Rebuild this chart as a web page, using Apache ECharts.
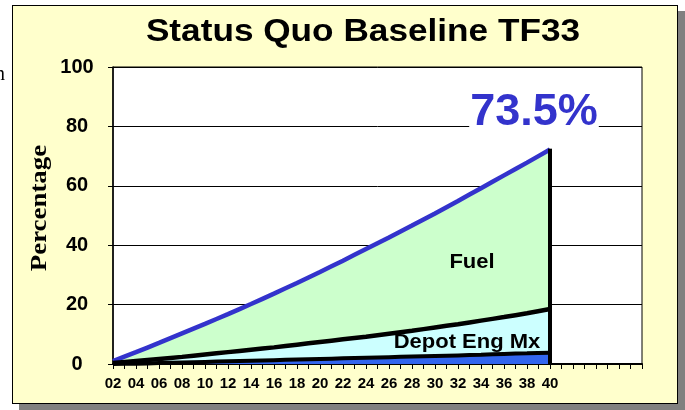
<!DOCTYPE html>
<html>
<head>
<meta charset="utf-8">
<script src="https://cdn.jsdelivr.net/npm/echarts@6/dist/echarts.min.js"></script>
<style>
  body { margin: 0; background: #fff; }
  #panel {
    position: absolute; left: 12px; top: 5px; width: 664px; height: 397px;
    background: #ffffcc; border: 1.5px solid #000; box-shadow: 7px 6px 0 #808080;
  }
  #chart { position: absolute; left: 0; top: 0; width: 685px; height: 410px; }
</style>
</head>
<body>
<div id="panel"></div>
<div id="chart"></div>
<script>
// years (two-digit), every 2 years
const years = [2, 4, 6, 8, 10, 12, 14, 16, 18, 20, 22, 24, 26, 28, 30, 32, 34, 36, 38, 40];
// stacked components, percentage points
const otherMx = [0, 0.1, 0.3, 0.5, 0.7, 0.9, 1.1, 1.3, 1.5, 1.7, 1.9, 2.1, 2.3, 2.5, 2.7, 2.9, 3.1, 3.4, 3.6, 3.8];
const depotEngMx = [0.3, 0.9, 1.4, 1.9, 2.5, 3.1, 3.7, 4.3, 5.0, 5.7, 6.4, 7.1, 7.9, 8.7, 9.6, 10.5, 11.5, 12.4, 13.5, 14.7];
const fuel = [0.7, 3, 5.4, 7.9, 10.3, 12.8, 15.4, 18.1, 20.8, 23.6, 26.5, 29.5, 32.4, 35.4, 38.4, 41.5, 44.6, 47.7, 50.7, 53.7];
const endYear = 40;
const endTotal = 72.5;
const endLabel = "73.5%";

const chart = echarts.init(document.getElementById("chart"));

// stack by hand (value x-axis), each band drawn as its cumulative top
function cumulative(parts) {
  return years.map((y, i) => {
    let s = 0;
    parts.forEach(p => { s += p[i]; });
    return [y, +s.toFixed(2)];
  });
}

function band(name, data, lineColor, lineWidth, fill, z) {
  return {
    name: name,
    type: "line",
    data: data,
    symbol: "none",
    smooth: 0.2,
    lineStyle: { color: lineColor, width: lineWidth },
    areaStyle: { color: fill, opacity: 1, origin: "start" },
    z: z,
  };
}

const fuelSeries = band("Fuel", cumulative([otherMx, depotEngMx, fuel]), "#3333cc", 4.5, "#ccffcc", 2);
fuelSeries.markLine = {
  silent: true,
  symbol: "none",
  label: { show: false },
  lineStyle: { color: "#000", width: 4, type: "solid" },
  data: [[{ coord: [endYear, 0] }, { coord: [endYear, endTotal] }]],
};

const textFont = "Arial, Liberation Sans";

const option = {
  animation: false,
  grid: {
    left: 113, right: 43, top: 67, bottom: 46,
    show: true, backgroundColor: "#fff", borderColor: "#000", borderWidth: 1,
  },
  xAxis: {
    type: "value",
    min: 2, max: 48, interval: 1,
    axisLine: { lineStyle: { color: "#000", width: 2 } },
    axisTick: { show: true, length: 5, lineStyle: { color: "#000" } },
    axisLabel: {
      margin: 12,
      color: "#000",
      fontFamily: textFont,
      fontWeight: "bold",
      fontSize: 15,
      formatter: function (v) {
        if (v % 2 !== 0 || v > endYear) return "";
        return (v < 10 ? "0" : "") + v;
      },
    },
    splitLine: { show: false },
  },
  yAxis: {
    type: "value",
    min: 0, max: 100, interval: 20,
    axisLine: { show: true, lineStyle: { color: "#000", width: 1.5 } },
    axisTick: { show: true, length: 5, lineStyle: { color: "#000" } },
    axisLabel: { margin: 36, align: "center", color: "#000", fontFamily: textFont, fontWeight: "bold", fontSize: 20 },
    splitLine: { show: true, lineStyle: { color: "#000", width: 1 } },
  },
  series: [
    fuelSeries,
    band("Depot Eng Mx", cumulative([otherMx, depotEngMx]), "#000", 4.5, "#ccffff", 3),
    band("Other", cumulative([otherMx]), "#000", 4, "#3366ee", 4),
  ],
  graphic: [
    {
      type: "text", z: 100, x: 363, y: 32, scaleX: 1.1,
      style: { text: "Status Quo Baseline TF33", textAlign: "center", textVerticalAlign: "middle",
        font: "bold 32px " + textFont, fill: "#000" },
    },
    {
      type: "text", z: 100, x: 534, y: 113,
      style: { text: endLabel, textAlign: "center", textVerticalAlign: "middle",
        font: "bold 45px " + textFont, fill: "#3333cc", backgroundColor: "#fff", padding: [0, 1] },
    },
    {
      type: "text", z: 100, x: 472, y: 262, scaleX: 1.1,
      style: { text: "Fuel", textAlign: "center", textVerticalAlign: "middle",
        font: "bold 20px " + textFont, fill: "#000" },
    },
    {
      type: "text", z: 100, x: 467, y: 342, scaleX: 1.1,
      style: { text: "Depot Eng Mx", textAlign: "center", textVerticalAlign: "middle",
        font: "bold 20px " + textFont, fill: "#000" },
    },
    {
      type: "text", z: 100, x: 40, y: 208, rotation: Math.PI / 2, scaleX: 1.12,
      style: { text: "Percentage", textAlign: "center", textVerticalAlign: "middle",
        font: "bold 24px Liberation Serif, Times New Roman", fill: "#000" },
    },
    {
      type: "text", z: 100, x: -5, y: 75,
      style: { text: "n", textVerticalAlign: "middle",
        font: "20px Liberation Serif, Times New Roman", fill: "#000" },
    },
  ],
};

chart.setOption(option);
</script>
</body>
</html>
